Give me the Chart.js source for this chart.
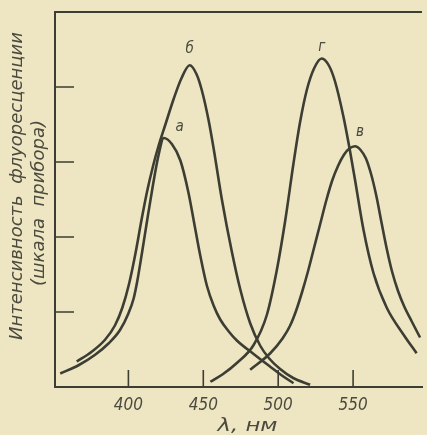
<!DOCTYPE html>
<html>
<head>
<meta charset="utf-8">
<script src="https://cdn.jsdelivr.net/npm/chart.js@4"></script>
<style>
  body { margin: 0; background: #eee5c3; }
  canvas { display: block; }
</style>
</head>
<body>
<canvas id="myChart" width="427" height="435"></canvas>
<script>
// curve а
let waveA = [354.5, 366.7, 377.8, 386.7, 394.4, 400, 403.5, 406, 409, 412.5, 416.2, 420, 423.6, 429, 434.7, 440, 444.7, 448, 452.4, 457, 461.3, 467, 472.4, 483.6, 494.7, 502, 510.2];
let valA = [0.18, 0.29, 0.43, 0.58, 0.76, 0.98, 1.18, 1.42, 1.78, 2.22, 2.67, 3.08, 3.32, 3.24, 3.02, 2.60, 2.10, 1.75, 1.35, 1.08, 0.90, 0.74, 0.62, 0.44, 0.27, 0.16, 0.05];
// curve б
let waveB = [365.5, 375.5, 384.4, 391, 396, 400.5, 404.7, 408.5, 412.4, 416.5, 420.2, 424.7, 430.2, 435.5, 440.9, 445.5, 449.1, 453.6, 456.9, 462.4, 469.1, 474.7, 481.3, 488, 494, 501.3, 510, 521.3];
let valB = [0.34, 0.47, 0.63, 0.82, 1.06, 1.38, 1.78, 2.20, 2.60, 2.95, 3.22, 3.50, 3.84, 4.12, 4.29, 4.17, 3.95, 3.55, 3.18, 2.50, 1.80, 1.30, 0.85, 0.55, 0.38, 0.24, 0.12, 0.03];
// curve в
let waveV = [481.3, 494.7, 503, 508, 512, 516, 520, 523.6, 528, 532, 536, 540, 544, 547.5, 551.3, 555, 558.5, 562, 565.5, 569, 572.5, 576, 580, 584, 589, 594.7];
let valV = [0.23, 0.45, 0.65, 0.82, 1.02, 1.27, 1.55, 1.83, 2.17, 2.48, 2.75, 2.95, 3.10, 3.18, 3.21, 3.16, 3.05, 2.84, 2.55, 2.19, 1.84, 1.54, 1.28, 1.08, 0.88, 0.66];
// curve г
let waveG = [454.7, 463, 472.4, 483.6, 492.4, 499, 504.7, 510.2, 514.5, 519.1, 524, 529.1, 534, 538, 543.6, 548, 551.3, 556.9, 563.6, 572.4, 583.6, 592.4];
let valG = [0.07, 0.17, 0.32, 0.56, 0.96, 1.55, 2.22, 2.98, 3.52, 3.96, 4.25, 4.38, 4.28, 4.07, 3.60, 3.14, 2.76, 2.10, 1.52, 1.06, 0.70, 0.45];

let xTicks = [400, 450, 500, 550];
let yTicks = [1, 2, 3, 4];
let curveNames = ['а', 'б', 'в', 'г'];

let ink = '#3c3e33';
let textInk = '#4a4b3e';
let italic = '"Liberation Sans Narrow", "DejaVu Sans Condensed", "Liberation Sans", sans-serif';

function toPoints(w, v) {
    return w.map((x, i) => ({ x: x, y: v[i] }));
}

function curve(w, v) {
    return {
        data: toPoints(w, v),
        borderColor: ink,
        borderWidth: 2.6,
        pointRadius: 0,
        fill: false,
        cubicInterpolationMode: 'monotone'
    };
}

// draws text stretched to a given width
function fitText(ctx, text, cx, cy, width) {
    let m = ctx.measureText(text).width;
    ctx.save();
    ctx.translate(cx, cy);
    ctx.scale(width / m, 1);
    ctx.fillText(text, 0, 0);
    ctx.restore();
}

const decor = {
    id: 'decor',
    afterDraw(chart) {
        const ctx = chart.ctx;
        const a = chart.chartArea;
        const x = chart.scales.x;
        const y = chart.scales.y;
        ctx.save();
        ctx.strokeStyle = ink;
        ctx.lineWidth = 2;
        ctx.beginPath();
        ctx.moveTo(a.left - 1, a.top);
        ctx.lineTo(a.right, a.top);
        ctx.stroke();

        // inner ticks
        ctx.lineWidth = 1.6;
        ctx.beginPath();
        for (let v of xTicks) {
            let px = x.getPixelForValue(v);
            ctx.moveTo(px, a.bottom);
            ctx.lineTo(px, a.bottom - 17);
        }
        for (let v of yTicks) {
            let py = y.getPixelForValue(v);
            ctx.moveTo(a.left, py);
            ctx.lineTo(a.left + 19, py);
        }
        ctx.stroke();

        // curve letters, placed by each curve's peak
        ctx.fillStyle = textInk;
        ctx.font = 'italic 15px ' + italic;
        ctx.textAlign = 'center';
        ctx.textBaseline = 'middle';
        let sets = [[waveA, valA, 16, -11], [waveB, valB, 0, -16], [waveV, valV, 5, -14], [waveG, valG, 0, -11]];
        sets.forEach((s, i) => {
            let k = s[1].indexOf(Math.max(...s[1]));
            let px = x.getPixelForValue(s[0][k]) + s[2];
            let py = y.getPixelForValue(s[1][k]) + s[3];
            ctx.fillText(curveNames[i], px, py);
        });

        // axis titles
        ctx.font = 'italic 17px ' + italic;
        fitText(ctx, 'λ, нм', (a.left + a.right) / 2 + 9, 427, 60);

        ctx.save();
        ctx.translate(18, 186);
        ctx.rotate(-Math.PI / 2);
        ctx.font = 'italic 17px ' + italic;
        fitText(ctx, 'Интенсивность  флуоресценции', 0, 0, 308);
        fitText(ctx, '(шкала  прибора)', -17, 22, 166);
        ctx.restore();
        ctx.restore();
    }
};

const config = {
    type: 'line',
    data: {
        datasets: [curve(waveA, valA), curve(waveB, valB), curve(waveV, valV), curve(waveG, valG)]
    },
    options: {
        responsive: false,
        animation: false,
        devicePixelRatio: 1,
        layout: { padding: { top: 12, right: 5, left: 0, bottom: 0 } },
        plugins: {
            legend: { display: false },
            tooltip: { enabled: false }
        },
        scales: {
            x: {
                type: 'linear',
                min: 351,
                max: 596,
                afterBuildTicks: (s) => { s.ticks = xTicks.map(v => ({ value: v })); },
                afterFit: (s) => { s.height = 48; },
                grid: { display: false, drawTicks: false },
                border: { display: true, color: ink, width: 2 },
                ticks: {
                    color: textInk,
                    padding: 8,
                    maxRotation: 0,
                    font: { family: italic, style: 'italic', size: 17 }
                }
            },
            y: {
                min: 0,
                max: 5,
                afterFit: (s) => { s.width = 55; },
                grid: { display: false, drawTicks: false },
                border: { display: true, color: ink, width: 2 },
                ticks: { display: false }
            }
        }
    },
    plugins: [decor]
};

let myChart = new Chart(document.getElementById('myChart'), config);
</script>
</body>
</html>
